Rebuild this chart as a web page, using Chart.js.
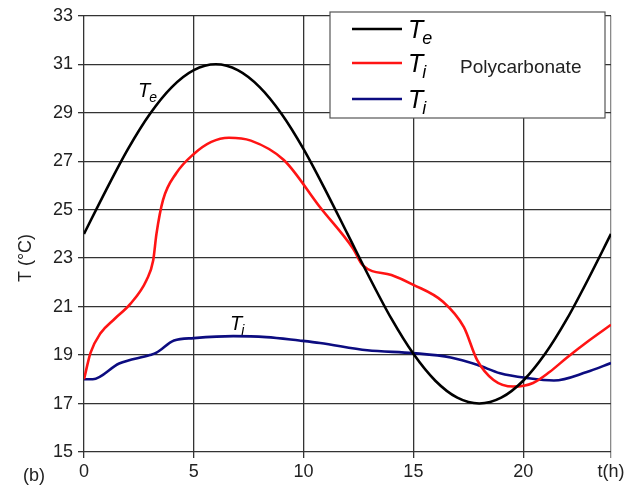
<!DOCTYPE html>
<html>
<head>
<meta charset="utf-8">
<script src="https://cdn.jsdelivr.net/npm/chart.js@4/dist/chart.umd.min.js"></script>
<style>
  html, body { margin: 0; padding: 0; background: #fff; }
  #wrap { width: 631px; height: 491px; position: relative; }
</style>
</head>
<body>
<div id="wrap"><canvas id="c"></canvas></div>
<script>
// ── DATA ───────────────────────────────────────────────────────────────
const xTicks = [0, 5, 10, 15, 20, 24];
const yTicks = [15, 17, 19, 21, 23, 25, 27, 29, 31, 33];

// outdoor temperature Te
const teHours = [0, 1, 2, 3, 4, 5, 6, 7, 8, 9, 10, 11, 12, 13, 14, 15, 16, 17, 18, 19, 20, 21, 22, 23, 24];
const teVals  = [24, 25.8, 27.5, 28.95, 30.06, 30.76, 31, 30.76, 30.06, 28.95, 27.5, 25.8, 24, 22.2, 20.5, 19.05, 17.94, 17.24, 17, 17.24, 17.94, 19.05, 20.5, 22.2, 24];

// indoor temperature Ti (red)
const tiRedHours = [0, 0.3, 0.75, 1.4, 2.1, 2.85, 3.15, 3.3, 3.6, 4.2, 5, 5.8, 6.6, 7.6, 9.1, 10.75, 12.25, 12.7, 14, 15, 16.35, 17.3, 17.9, 18.65, 19.55, 20.45, 21.2, 22, 23, 24];
const tiRedVals  = [18, 19.1, 19.9, 20.5, 21.1, 22.1, 22.9, 24.0, 25.4, 26.5, 27.3, 27.8, 27.97, 27.85, 27.05, 25.1, 23.4, 22.7, 22.3, 21.9, 21.2, 20.15, 18.8, 17.97, 17.7, 17.85, 18.3, 18.9, 19.6, 20.25];

// indoor temperature Ti (blue)
const tiBlueHours = [0, 0.4, 1.6, 3, 3.3, 4.1, 5, 6.8, 8.3, 9.8, 10.75, 12.9, 15, 16.7, 17.9, 18.95, 20.2, 21.4, 22.9, 24];
const tiBlueVals  = [18, 18.0, 18.65, 19.0, 19.1, 19.6, 19.7, 19.78, 19.74, 19.6, 19.5, 19.2, 19.08, 18.9, 18.6, 18.25, 18.05, 17.95, 18.3, 18.67];

const FONT = "'Liberation Sans', Arial, sans-serif";
const toPts = (xs, ys) => xs.map((x, i) => ({ x: x, y: ys[i] }));

// draws "T" with an italic subscript
function drawTsub(ctx, x, y, sub, size) {
  ctx.save();
  ctx.fillStyle = '#000';
  ctx.textBaseline = 'alphabetic';
  ctx.textAlign = 'left';
  ctx.font = 'italic ' + size + 'px ' + FONT;
  ctx.fillText('T', x, y);
  const w = ctx.measureText('T').width;
  ctx.font = 'italic ' + Math.round(size * 0.7) + 'px ' + FONT;
  ctx.fillText(sub, x + w - 1, y + size * 0.25);
  ctx.restore();
}

const extras = {
  id: 'extras',
  afterDraw(chart) {
    const ctx = chart.ctx;
    // legend box
    ctx.save();
    ctx.fillStyle = '#fff';
    ctx.strokeStyle = '#555';
    ctx.lineWidth = 1.2;
    ctx.fillRect(330, 12, 275, 106);
    ctx.strokeRect(330, 12, 275, 106);
    const rows = [
      { y: 29, color: '#000', sub: 'e' },
      { y: 63, color: '#ff1414', sub: 'i' },
      { y: 99, color: '#0c0c80', sub: 'i' }
    ];
    rows.forEach(r => {
      ctx.strokeStyle = r.color;
      ctx.lineWidth = 2.5;
      ctx.beginPath();
      ctx.moveTo(352, r.y);
      ctx.lineTo(402, r.y);
      ctx.stroke();
      drawTsub(ctx, 408, r.y + 9, r.sub, 25);
    });
    ctx.fillStyle = '#222';
    ctx.font = '19px ' + FONT;
    ctx.textBaseline = 'middle';
    ctx.fillText('Polycarbonate', 460, 68);
    ctx.restore();

    // curve labels
    drawTsub(ctx, 138, 97, 'e', 20);
    drawTsub(ctx, 230, 330, 'i', 20);

    // panel tag and axis title
    ctx.save();
    ctx.fillStyle = '#222';
    ctx.font = '18px ' + FONT;
    ctx.textAlign = 'left';
    ctx.textBaseline = 'middle';
    ctx.fillText('(b)', 23, 476);
    ctx.translate(26, 258);
    ctx.rotate(-Math.PI / 2);
    ctx.textAlign = 'center';
    ctx.fillText('T (°C)', 0, 0);
    ctx.restore();
  }
};

new Chart(document.getElementById('c'), {
  type: 'line',
  data: {
    datasets: [
      { label: 'Te', data: toPts(teHours, teVals), borderColor: '#000', borderWidth: 2.6 },
      { label: 'Ti', data: toPts(tiRedHours, tiRedVals), borderColor: '#ff1414', borderWidth: 2.6 },
      { label: 'Ti', data: toPts(tiBlueHours, tiBlueVals), borderColor: '#0c0c80', borderWidth: 2.6 }
    ]
  },
  options: {
    responsive: true, maintainAspectRatio: false,
    animation: false,
    elements: {
      point: { radius: 0 },
      line: { cubicInterpolationMode: 'monotone', fill: false }
    },
    layout: { padding: { top: 15, right: 20, left: 0, bottom: 0 } },
    plugins: { legend: { display: false }, tooltip: { enabled: false } },
    scales: {
      x: {
        type: 'linear', min: 0, max: 24,
        afterBuildTicks: s => { s.ticks = xTicks.map(v => ({ value: v })); },
        afterFit: s => { s.height = 39; },
        border: { display: false },
        grid: {
          color: ctx => (ctx.tick && ctx.tick.value === 24) ? '#8a8a8a' : '#333',
          lineWidth: 1.3, tickLength: 6
        },
        ticks: {
          color: '#222', font: { family: FONT, size: 18 }, maxRotation: 0, padding: 3,
          callback: v => v === 24 ? 't(h)' : v
        }
      },
      y: {
        min: 15, max: 33,
        afterBuildTicks: s => { s.ticks = yTicks.map(v => ({ value: v })); },
        afterFit: s => { s.width = 84; },
        border: { display: false },
        grid: { color: '#333', lineWidth: 1.3, tickLength: 6 },
        ticks: { color: '#222', font: { family: FONT, size: 18 }, padding: 5 }
      }
    }
  },
  plugins: [extras]
});
</script>
</body>
</html>
